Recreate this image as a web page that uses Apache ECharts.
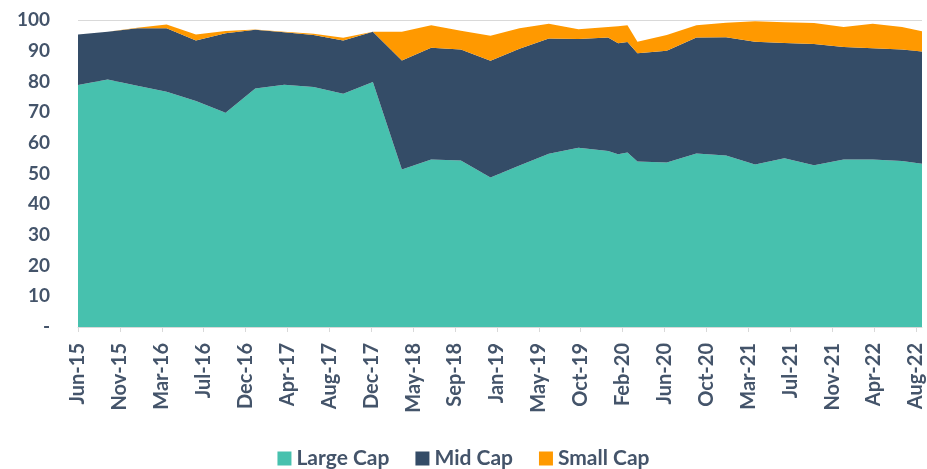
<!DOCTYPE html>
<html><head><meta charset="utf-8">
<script src="https://cdn.jsdelivr.net/npm/echarts@6/dist/echarts.min.js"></script>
<style>html,body{margin:0;padding:0;background:#fff}#c{width:927px;height:469px}</style>
</head><body><div id="c"></div>
<script>
const dates = ['2015-06-30','2015-09-30','2015-12-31','2016-03-31','2016-06-30','2016-09-30','2016-12-31',
  '2017-03-31','2017-06-30','2017-09-30','2017-12-31','2018-03-31','2018-06-30','2018-09-30','2018-12-31',
  '2019-03-31','2019-06-30','2019-09-30','2019-12-31','2020-01-31','2020-02-29','2020-03-31','2020-06-30',
  '2020-09-30','2020-12-31','2021-03-31','2021-06-30','2021-09-30','2021-12-31','2022-03-31','2022-06-30','2022-08-31'];
const largeCap = [78.8,80.6,78.6,76.6,73.6,69.8,77.7,78.9,78.2,76.0,79.8,51.3,54.6,54.2,48.7,52.6,56.4,58.4,57.3,56.3,56.8,53.9,53.6,56.5,55.9,52.9,55.0,52.7,54.6,54.6,54.1,53.2];
const midCap   = [16.5,15.6,18.7,20.7,19.7,25.9,19.1,17.1,16.9,17.3,16.4,35.5,36.4,36.2,38.0,38.0,37.6,35.4,37.0,36.1,36.0,35.3,36.4,37.8,38.5,40.0,37.5,39.5,36.6,36.2,36.3,36.5];
const smallCap = [0.0,0.0,0.2,1.2,2.0,0.7,0.1,0.2,0.4,0.9,0.0,9.4,7.3,6.1,8.2,6.7,4.8,3.2,3.4,5.6,5.5,3.7,5.1,4.0,4.7,6.7,6.8,6.8,6.5,8.0,7.3,6.6];
const tickLabels = ['Jun-15','Nov-15','Mar-16','Jul-16','Dec-16','Apr-17','Aug-17','Dec-17','May-18','Sep-18','Jan-19',
  'May-19','Oct-19','Feb-20','Jun-20','Oct-20','Mar-21','Jul-21','Nov-21','Apr-22','Aug-22'];
const tickStepDays = 130;
const DAY = 86400000;

// x positions in days since the first date (date axis, as in the source)
const t0 = Date.parse(dates[0]);
const xs = dates.map(s => Math.round((Date.parse(s) - t0) / DAY));
const tickValues = tickLabels.map((_, i) => i * tickStepDays);
const txt = '#44546A';
const font = 'Lato';
// value first so the library stacks the y dimension
function pairs(arr){ return arr.map((v, i) => [v, xs[i]]); }
function mk(name, arr, color){
  return { name, type: 'line', stack: 'total', data: pairs(arr), encode: { x: 1, y: 0 }, symbol: 'none',
    lineStyle: { width: 0 }, areaStyle: { color, opacity: 1 }, itemStyle: { color } };
}
const chart = echarts.init(document.getElementById('c'), null, { renderer: 'canvas' });
chart.setOption({
  animation: false,
  textStyle: { fontFamily: font },
  grid: { left: 78, right: 5, top: 20, bottom: 142, containLabel: false, outerBoundsMode: 'none' },
  legend: {
    top: 443, left: 'center', icon: 'rect', itemWidth: 14, itemHeight: 14, itemGap: 26,
    textStyle: { color: txt, fontSize: 21, fontWeight: 'bold', fontFamily: font },
    data: ['Large Cap', 'Mid Cap', 'Small Cap']
  },
  xAxis: {
    type: 'value', min: 0, max: xs[xs.length - 1],
    axisLine: { show: true, lineStyle: { color: '#D9D9D9', width: 1 } },
    axisTick: { show: true, customValues: tickValues, length: 5, lineStyle: { color: '#D9D9D9' } },
    axisLabel: { customValues: tickValues, rotate: 90, margin: 16, color: txt, fontSize: 20, fontWeight: 'bold', fontFamily: font,
      formatter: v => tickLabels[Math.round(v / tickStepDays)] || '' },
    splitLine: { show: false }
  },
  yAxis: {
    type: 'value', min: 0, max: 100, interval: 10,
    axisLine: { show: false }, axisTick: { show: false },
    axisLabel: { margin: 28, color: txt, fontSize: 19, fontWeight: 'bold', fontFamily: font,
      formatter: v => v === 0 ? '-' : String(v) },
    splitLine: { show: true, lineStyle: { color: '#D9D9D9', width: 1 } }
  },
  series: [
    mk('Large Cap', largeCap, '#47C1AE'),
    mk('Mid Cap', midCap, '#344C67'),
    mk('Small Cap', smallCap, '#FF9900')
  ]
});
</script></body></html>
